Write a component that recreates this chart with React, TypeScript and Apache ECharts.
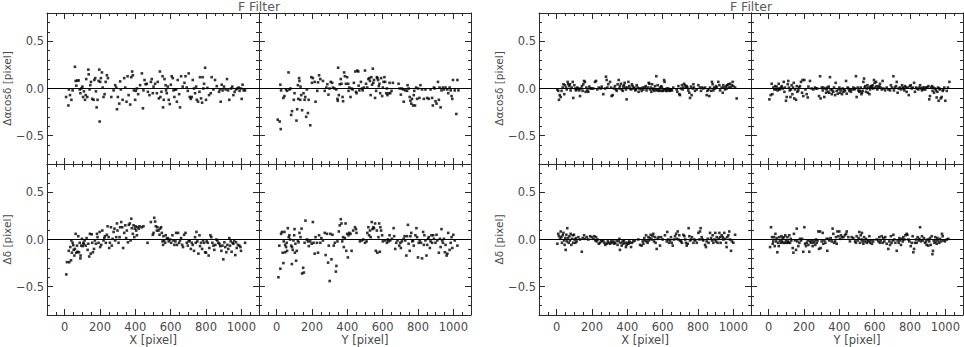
import React, { useEffect, useRef } from 'react';
import * as echarts from 'echarts';

// ---------- texts and ticks ----------
const titleText = 'F Filter';
const xAxisNames = ['X [pixel]', 'Y [pixel]'];
const yAxisNames = ['Δαcosδ [pixel]', 'Δδ [pixel]'];
const xTickValues = [0, 200, 400, 600, 800, 1000];
const yTickValues = [-0.5, 0, 0.5];
const xRange = [-100, 1100];
const yRange = [-0.8, 0.8];

// ---------- data: [pixel position, residual in pixel] ----------
// left group
const leftX_dAlpha: number[][] = [[8,-0.09],[21,-0.18],[24,-0.01],[30,-0.07],[38,-0.12],[45,-0.02],[58,0.23],[62,0.08],[66,0.03],[72,0.085],[79,0.085],[85,-0.01],[89,-0.05],[94,0],[100,0.02],[104,-0.09],[109,-0.03],[115,-0.12],[119,-0.07],[122,0.1],[128,-0.09],[134,0.2],[136,0.15],[141,-0.01],[145,0.035],[149,0.07],[156,-0.11],[164,-0.12],[168,0.09],[173,0.11],[177,-0.03],[181,-0.2],[186,-0.12],[192,0.08],[196,0.2],[198,-0.35],[201,0.07],[205,0.11],[211,0.17],[215,0.01],[220,-0.09],[226,-0.06],[232,0.07],[239,0.14],[245,0.11],[264,-0.09],[277,-0.02],[286,0.035],[292,0.01],[296,-0.22],[301,-0.09],[309,-0.16],[314,0.075],[318,-0.01],[328,-0.12],[337,0.11],[343,0.01],[350,-0.14],[356,0.13],[362,-0.07],[371,-0.17],[377,0.12],[382,0.18],[386,0.14],[392,-0.02],[399,-0.12],[403,-0.025],[409,0],[416,-0.06],[427,0.035],[437,0.16],[443,-0.21],[446,-0.02],[452,0.09],[458,0.045],[465,0.05],[471,-0.035],[480,-0.07],[488,0.07],[493,0.1],[499,-0.05],[503,0.02],[512,0.05],[522,-0.05],[527,0.07],[533,-0.105],[539,0.18],[542,-0.09],[548,-0.035],[554,0.13],[557,-0.2],[561,-0.12],[565,0.1],[571,0.035],[574,-0.02],[578,-0.05],[584,0.02],[589,-0.12],[595,-0.165],[601,0.04],[606,0.13],[612,0.11],[616,-0.02],[621,-0.09],[625,-0.01],[631,-0.01],[635,-0.14],[640,0.09],[648,-0.06],[653,-0.2],[659,0.13],[668,0.02],[678,0.06],[684,0.13],[691,0.01],[697,-0.025],[702,0.16],[708,-0.09],[714,-0.11],[719,-0.09],[725,0.09],[732,0],[738,-0.05],[744,0.02],[748,-0.12],[755,-0.14],[763,-0.035],[766,0.12],[772,-0.105],[778,-0.15],[781,0.12],[785,0],[789,0.05],[795,0.22],[800,-0.12],[808,0.007],[817,-0.07],[827,-0.05],[832,0.12],[842,-0.01],[851,0.09],[861,0.025],[874,-0.035],[879,-0.01],[883,-0.14],[889,0.04],[894,-0.02],[902,0.02],[911,-0.01],[919,0.1],[925,-0.02],[932,-0.12],[942,0],[949,0.02],[955,-0.07],[962,-0.035],[970,-0.01],[977,0],[985,0.01],[990,-0.025],[998,0],[1002,-0.11],[1007,0.04],[1013,-0.02],[1021,-0.02]];

const leftY_dAlpha: number[][] = [[6,-0.33],[17,-0.35],[23,-0.43],[21,0.04],[25,-0.02],[38,-0.1],[44,-0.08],[53,-0.01],[59,-0.025],[67,0.17],[72,-0.01],[78,0],[82,-0.28],[87,-0.24],[97,-0.12],[101,-0.05],[112,-0.34],[116,-0.22],[120,0.035],[122,-0.11],[127,0.11],[129,0.08],[133,-0.12],[135,0.02],[139,-0.07],[144,-0.23],[152,-0.05],[158,-0.12],[162,-0.09],[167,-0.3],[171,-0.01],[177,-0.26],[181,-0.12],[190,-0.39],[196,0.12],[200,0.06],[205,0.11],[215,0.07],[220,-0.14],[230,-0.025],[234,0.065],[240,0.14],[247,0.1],[262,0.08],[272,-0.025],[281,0.01],[287,0.045],[293,-0.065],[299,0],[306,0.07],[314,0.06],[319,0.01],[327,0],[338,-0.01],[344,-0.11],[346,-0.13],[348,0.22],[352,-0.07],[357,0.045],[363,0.1],[367,0.05],[373,-0.09],[376,-0.135],[382,0.17],[386,0.13],[392,0.05],[399,0.12],[405,0.05],[407,-0.025],[411,0.01],[418,-0.09],[424,0],[430,-0.01],[437,0.06],[445,0.18],[449,-0.035],[452,-0.05],[456,0.19],[462,0.18],[464,0.03],[468,-0.02],[477,0.07],[483,0],[487,-0.02],[494,0.01],[500,0.19],[506,0.05],[513,0.01],[519,0.1],[525,0.11],[528,0.08],[532,-0.07],[536,0.12],[540,0.04],[544,0.21],[547,0.06],[551,0.09],[557,-0.1],[563,-0.025],[567,0.12],[570,0.11],[574,0.09],[578,0.025],[582,0.05],[586,-0.05],[591,0.11],[597,-0.08],[601,0.01],[605,0.07],[610,0.12],[614,0.07],[620,-0.05],[624,0],[627,-0.07],[633,-0.05],[639,0.06],[643,-0.05],[650,-0.025],[658,0.06],[690,0.05],[696,0],[703,-0.065],[709,0],[715,-0.01],[719,-0.14],[728,-0.02],[738,-0.025],[741,0.035],[747,0],[753,-0.09],[757,-0.13],[762,-0.16],[766,-0.11],[772,-0.18],[776,-0.07],[779,-0.025],[783,-0.18],[789,0.01],[795,-0.11],[800,0],[808,-0.1],[814,0.035],[823,-0.01],[833,-0.11],[842,-0.01],[852,-0.1],[861,-0.11],[871,-0.01],[880,-0.1],[884,-0.18],[890,0.01],[894,0],[899,-0.135],[905,-0.16],[913,0.07],[918,-0.12],[922,0.01],[928,-0.2],[933,-0.02],[941,0.01],[947,-0.01],[956,0.01],[966,-0.01],[971,-0.05],[979,0.01],[985,-0.02],[990,-0.08],[994,-0.11],[998,0.09],[1008,-0.02],[1017,-0.27],[1023,0.09],[1029,-0.02]];

const leftX_dDelta: number[][] = [[9,-0.37],[13,-0.24],[23,-0.12],[26,-0.24],[32,-0.08],[36,-0.22],[38,-0.01],[41,-0.14],[45,-0.035],[49,-0.06],[51,-0.11],[55,-0.17],[58,-0.1],[62,0.06],[66,-0.14],[70,-0.065],[73,-0.13],[77,0.035],[81,-0.135],[85,-0.035],[89,-0.2],[90,-0.17],[94,-0.065],[98,0.007],[102,-0.07],[105,-0.035],[109,-0.045],[113,-0.01],[119,-0.065],[124,0.015],[130,-0.11],[134,-0.045],[139,-0.18],[143,0.06],[147,-0.15],[153,0.055],[156,-0.035],[160,-0.135],[166,-0.1],[171,-0.01],[177,-0.045],[183,0.06],[186,0.025],[192,-0.035],[198,0.08],[201,-0.08],[207,-0.057],[213,0.095],[220,-0.01],[224,0.015],[228,0.035],[233,-0.035],[239,0.05],[243,0.14],[249,0.025],[252,-0.09],[256,-0.035],[262,0.13],[267,-0.065],[271,0.007],[277,0.08],[282,0.115],[286,-0.01],[292,0.025],[296,0.17],[299,0.095],[305,-0.035],[311,0.025],[314,0.13],[320,0.185],[326,0.13],[331,-0.09],[337,0.07],[343,0.15],[348,0.015],[352,0.095],[358,-0.03],[363,0.155],[369,0.17],[373,-0.01],[377,0.22],[380,0.12],[386,0.06],[390,0.15],[394,0.025],[397,0.115],[401,0.14],[405,0.095],[409,0.045],[412,0.13],[420,0.115],[424,0.14],[437,0.13],[446,0.14],[469,-0.035],[488,0.185],[499,0.05],[503,0.07],[507,0.23],[512,0.19],[516,0.14],[522,0.095],[525,0.13],[531,0.095],[537,0.05],[540,0.115],[546,0.13],[550,0.07],[554,-0.02],[557,-0.057],[559,0.035],[563,-0.01],[569,-0.035],[572,0.045],[578,0.007],[584,0.015],[589,-0.02],[597,0],[603,-0.035],[610,0.045],[616,-0.01],[621,-0.057],[627,-0.02],[631,0.07],[636,-0.057],[642,0.07],[648,-0.035],[653,-0.01],[659,0.015],[665,-0.057],[670,-0.08],[676,0.05],[684,0.07],[691,-0.035],[697,-0.065],[702,-0.02],[708,-0.01],[714,-0.1],[719,-0.035],[725,-0.057],[732,-0.12],[738,0.025],[742,-0.035],[746,0.08],[751,-0.02],[757,-0.15],[763,0.045],[766,-0.07],[772,-0.035],[778,-0.1],[783,-0.01],[789,-0.035],[795,-0.135],[800,-0.14],[804,-0.02],[810,-0.035],[815,-0.17],[819,-0.09],[825,0.045],[830,0.025],[836,-0.035],[842,-0.065],[847,-0.11],[853,-0.057],[859,0],[864,-0.01],[870,-0.035],[876,-0.045],[881,-0.07],[887,-0.12],[893,-0.065],[898,-0.21],[904,-0.03],[909,-0.08],[915,-0.135],[921,-0.057],[926,-0.1],[932,0.015],[936,-0.065],[940,-0.02],[945,-0.13],[951,-0.035],[955,-0.045],[960,-0.01],[966,-0.165],[970,-0.03],[974,-0.09],[981,-0.057],[989,-0.065],[995,-0.08],[998,-0.12],[1021,-0.035]];

const leftY_dDelta: number[][] = [[10,-0.4],[15,-0.065],[21,-0.31],[25,0.06],[30,0.08],[34,-0.14],[38,-0.25],[40,-0.02],[44,0.08],[48,-0.057],[49,-0.135],[53,-0.08],[57,-0.035],[59,-0.12],[63,0.12],[68,0.025],[72,0.045],[76,0],[82,-0.065],[86,-0.26],[87,-0.08],[91,-0.11],[95,-0.01],[99,0.045],[101,0.11],[103,-0.14],[106,-0.045],[110,-0.225],[114,-0.12],[120,-0.01],[124,-0.03],[129,0.07],[135,0.025],[141,0.115],[144,-0.36],[150,-0.3],[154,-0.35],[158,-0.035],[163,0.2],[171,0],[177,-0.02],[182,-0.07],[190,-0.02],[198,-0.045],[205,0.185],[209,-0.035],[215,-0.15],[220,0.025],[228,-0.035],[234,-0.14],[240,0.045],[247,-0.035],[253,0.015],[262,-0.01],[272,0.07],[277,-0.165],[285,0.06],[291,-0.245],[295,-0.065],[300,-0.44],[304,0.06],[310,-0.21],[316,0.05],[323,-0.065],[329,-0.035],[335,-0.34],[338,-0.28],[344,-0.02],[352,0.085],[357,0.15],[363,0.215],[367,0.17],[371,-0.02],[376,0.025],[380,-0.08],[386,0.015],[390,0.17],[394,-0.12],[399,0.06],[403,-0.19],[407,0.045],[411,0.07],[418,0.06],[424,-0.12],[433,0.095],[443,0.13],[449,0.11],[452,0.07],[471,-0.02],[481,-0.01],[490,0],[500,-0.035],[509,-0.02],[513,0.07],[519,0.13],[523,0.045],[528,0.095],[532,0.025],[538,0.185],[542,0.11],[547,0.13],[551,0.12],[557,0.17],[561,-0.12],[567,0.095],[570,-0.14],[576,0.025],[580,0.17],[584,-0.13],[587,0.13],[591,0.095],[597,0.045],[601,-0.02],[614,-0.01],[624,-0.035],[629,0],[633,-0.02],[639,0.045],[643,-0.01],[652,0.007],[662,0.12],[665,0.035],[671,-0.1],[677,-0.035],[684,-0.01],[694,-0.065],[700,-0.035],[703,-0.09],[709,-0.02],[719,0.007],[724,0.035],[728,-0.01],[734,-0.17],[738,0.035],[743,0.155],[747,-0.045],[753,-0.12],[757,0.035],[762,0.07],[768,-0.02],[772,-0.01],[776,-0.065],[785,0.045],[791,0.12],[795,0.025],[800,-0.19],[804,-0.035],[810,-0.01],[817,-0.035],[823,-0.2],[829,0.08],[833,-0.057],[836,0.045],[842,-0.01],[848,-0.17],[852,-0.057],[857,0.007],[861,0.025],[867,-0.09],[871,-0.02],[876,0.045],[880,-0.035],[886,0.045],[890,0.007],[899,-0.035],[905,0.05],[909,-0.01],[918,-0.14],[924,0.007],[928,-0.08],[933,0.11],[937,-0.01],[941,-0.035],[947,0.007],[952,-0.135],[956,-0.057],[962,-0.17],[966,-0.15],[971,0.07],[979,-0.11],[985,-0.035],[990,0.025],[994,-0.09],[1000,0.05],[1008,-0.01],[1023,-0.065]];

// right group
const rightX_dAlpha: number[][] = [[4,-0.01],[9,-0.025],[13,-0.12],[17,-0.07],[23,-0.09],[28,-0.025],[34,0.01],[38,0.045],[43,-0.06],[47,0.035],[53,0.01],[57,-0.01],[62,0.07],[66,0.045],[72,0.025],[75,0.045],[79,-0.02],[85,0.01],[91,0.07],[94,-0.1],[100,0.035],[106,0],[109,-0.02],[113,-0.01],[117,0.01],[123,0],[128,-0.02],[132,-0.08],[138,0],[143,0.025],[147,-0.025],[151,0.045],[155,0.08],[160,0.07],[164,-0.035],[168,0.01],[174,-0.02],[179,-0.035],[185,0.02],[192,0],[198,0],[208,0],[217,0.07],[223,0.08],[230,-0.01],[238,0.01],[249,0],[255,0.02],[264,-0.06],[274,0],[279,0.125],[283,0.09],[287,0.01],[292,0.045],[302,0.07],[308,0.01],[311,-0.08],[317,-0.07],[325,0],[330,0.025],[336,-0.01],[340,-0.025],[345,0.045],[351,0.09],[355,0],[358,0.025],[364,0.05],[368,-0.01],[374,-0.025],[377,0.02],[381,0.035],[385,0.06],[389,0.01],[392,-0.01],[396,-0.115],[400,0.01],[406,0.07],[411,0.025],[415,0],[421,-0.01],[426,0.045],[430,0.025],[434,0],[440,0.01],[445,-0.02],[449,-0.01],[453,0.035],[458,0.01],[464,-0.035],[468,0],[476,0],[481,-0.025],[487,0.01],[491,-0.01],[498,0.01],[504,0.025],[509,-0.02],[515,0.01],[521,0.06],[525,0.05],[528,-0.01],[532,0.01],[536,-0.035],[540,0.045],[543,-0.01],[547,0],[553,-0.025],[557,0.025],[560,-0.01],[564,0.13],[568,-0.02],[572,0.035],[577,-0.025],[581,-0.01],[585,0.01],[589,-0.025],[592,0.025],[596,0.01],[600,-0.025],[604,-0.02],[608,0.09],[611,0.07],[615,-0.01],[619,-0.025],[623,0],[626,-0.025],[632,0],[638,-0.02],[642,-0.025],[647,-0.01],[653,-0.02],[660,0.01],[679,-0.01],[683,-0.035],[689,0.025],[694,-0.06],[698,-0.07],[704,0],[709,0.035],[713,-0.01],[717,0.01],[721,0.05],[726,0.035],[732,0.01],[736,0.025],[740,0.01],[745,-0.02],[751,-0.045],[755,-0.1],[760,0.02],[764,-0.07],[770,0],[774,0.045],[777,0.01],[783,-0.025],[793,-0.01],[802,0.035],[811,0.01],[817,-0.025],[823,0.01],[830,0],[840,0.01],[849,-0.07],[853,-0.025],[859,-0.01],[864,-0.08],[868,0.01],[874,-0.025],[879,0.07],[883,0.045],[887,-0.02],[891,0.01],[896,0],[902,0.025],[906,0.01],[915,0.07],[921,0.035],[925,-0.02],[934,0.01],[940,-0.045],[943,0.035],[949,0.01],[953,-0.01],[959,0.025],[962,0],[966,0.035],[972,0.045],[977,0.01],[981,0.05],[985,0.01],[991,0.035],[996,0.07],[1000,0.025],[1010,0.01],[1019,-0.105]];

const rightY_dAlpha: number[][] = [[4,-0.115],[11,-0.07],[17,0.05],[21,-0.06],[26,0.01],[32,-0.01],[36,0.025],[42,-0.01],[45,0.02],[51,-0.02],[57,0.05],[60,0],[64,-0.01],[70,0.01],[74,0.025],[79,0],[85,0.07],[89,-0.035],[92,0.01],[98,-0.13],[102,-0.09],[108,0.045],[111,0.08],[115,0.01],[119,-0.02],[123,-0.09],[126,-0.01],[130,0.035],[134,-0.06],[138,0.01],[142,0.06],[145,-0.105],[149,-0.01],[155,-0.12],[159,0.025],[162,-0.035],[168,-0.02],[172,0.01],[177,0.025],[183,0.07],[189,-0.045],[192,0.09],[196,-0.08],[202,0.09],[208,-0.01],[215,-0.06],[221,-0.095],[225,0.02],[234,0.08],[243,0],[253,-0.01],[262,0.01],[268,0],[275,0],[285,-0.08],[291,0.13],[294,-0.105],[300,0.01],[306,-0.02],[309,0.01],[315,-0.09],[321,0],[325,-0.045],[328,-0.01],[332,0.01],[336,-0.035],[340,0.02],[343,-0.045],[347,0.12],[351,-0.01],[357,-0.06],[360,-0.02],[366,-0.035],[370,0.01],[376,-0.07],[379,0.06],[385,-0.025],[391,-0.055],[396,-0.01],[400,0.01],[404,-0.045],[409,-0.02],[415,-0.06],[419,0],[423,-0.035],[428,-0.01],[432,-0.025],[438,0.08],[442,-0.055],[447,0.01],[451,0],[457,-0.025],[460,-0.01],[466,-0.035],[472,-0.01],[479,0.01],[485,-0.01],[489,0],[494,0.13],[498,-0.09],[504,0.01],[508,-0.02],[513,-0.035],[517,-0.025],[521,0.01],[525,-0.06],[528,-0.045],[532,-0.025],[536,0.07],[540,0.105],[543,0.01],[547,0.025],[551,-0.035],[555,0],[559,0.035],[562,-0.045],[566,0.01],[570,-0.06],[574,-0.01],[577,0.02],[581,0.025],[585,0.01],[589,0.035],[592,0],[596,0.09],[600,0.06],[604,0.01],[608,0.07],[611,0.025],[615,-0.01],[621,0.01],[626,0.025],[630,0.05],[634,0.01],[640,-0.01],[645,0.08],[649,0],[659,-0.02],[668,0.01],[677,-0.01],[687,-0.02],[692,0.035],[698,0.01],[706,0.13],[709,-0.02],[715,0.01],[721,0.025],[725,0.07],[730,-0.045],[736,0],[743,0.01],[749,-0.01],[755,0.035],[759,0.01],[762,0],[768,-0.02],[772,0.025],[776,0.01],[781,-0.035],[787,0.01],[793,-0.07],[800,0.025],[804,0.035],[810,0],[815,0.01],[823,0.06],[828,-0.035],[834,0.01],[838,0],[847,-0.01],[853,0.01],[857,0.035],[862,0],[868,-0.02],[872,0.01],[876,-0.01],[881,0.01],[887,-0.01],[891,0.01],[898,0.01],[904,0.025],[909,-0.115],[913,-0.08],[919,0.01],[925,0.025],[928,-0.025],[932,0.01],[936,-0.045],[942,0],[947,-0.02],[951,-0.095],[955,-0.035],[959,0.01],[962,-0.13],[966,0],[970,-0.01],[974,-0.105],[979,-0.09],[985,-0.025],[989,-0.01],[994,0.01],[1000,-0.13],[1008,-0.025],[1015,0.01],[1023,0.07]];

const rightX_dDelta: number[][] = [[4,-0.045],[9,0.06],[13,0.035],[19,0.007],[23,0.085],[26,0.025],[30,-0.035],[34,0.045],[38,0.07],[42,-0.01],[45,-0.057],[49,0.015],[51,-0.11],[55,0.05],[57,-0.02],[60,0.12],[64,0.015],[68,-0.035],[72,0.035],[75,-0.01],[79,0.06],[83,-0.057],[87,0.007],[91,0.045],[94,-0.035],[98,0.05],[102,0],[106,-0.035],[109,0.015],[113,-0.02],[123,0.025],[132,0],[142,-0.13],[147,0.015],[155,0.045],[160,0.007],[170,0.025],[179,0],[189,0.035],[198,0.025],[208,0.007],[213,0.035],[219,-0.01],[223,0.025],[226,-0.02],[232,0],[238,-0.045],[245,-0.035],[251,-0.01],[257,-0.02],[264,-0.01],[270,-0.035],[275,-0.057],[283,-0.045],[289,-0.02],[294,-0.035],[302,-0.045],[308,-0.02],[313,-0.035],[321,-0.02],[326,-0.045],[332,-0.035],[340,-0.01],[345,-0.057],[351,-0.02],[355,0.007],[358,-0.11],[362,-0.035],[368,-0.065],[374,-0.02],[377,-0.045],[381,-0.01],[387,-0.035],[392,-0.08],[396,-0.057],[400,-0.035],[406,-0.045],[411,-0.02],[415,-0.035],[421,-0.08],[426,-0.035],[434,-0.02],[443,-0.01],[462,0],[472,-0.057],[481,-0.065],[487,-0.02],[491,-0.045],[496,0.015],[500,-0.01],[506,0.045],[509,-0.02],[515,-0.035],[519,0.025],[523,-0.01],[528,0.015],[532,0.05],[538,0],[543,0.035],[547,0.06],[551,-0.02],[557,0.025],[560,-0.035],[566,-0.1],[572,0.007],[577,0.025],[585,-0.065],[591,0.025],[600,0],[613,0.045],[623,-0.02],[626,0.08],[632,0],[636,-0.035],[642,-0.01],[647,0.025],[651,-0.035],[657,-0.065],[664,0],[670,0.035],[676,0.06],[679,0.007],[685,0.085],[689,0],[694,0.045],[698,-0.01],[704,-0.02],[709,-0.035],[717,0.05],[723,0.035],[728,0],[732,-0.035],[736,-0.065],[742,-0.045],[747,0.12],[751,0.035],[755,-0.01],[760,0],[766,0.025],[774,-0.035],[779,0],[785,-0.01],[793,-0.035],[802,0.07],[808,0],[811,0.085],[815,0.12],[821,0.025],[826,0],[830,-0.01],[840,-0.057],[845,-0.08],[849,-0.02],[855,0.007],[860,-0.035],[868,0.07],[874,0.015],[879,-0.01],[883,0.045],[887,-0.035],[893,0],[898,0.07],[902,-0.02],[906,0.025],[911,-0.035],[917,0.007],[921,0.07],[925,0.025],[928,-0.035],[934,0.045],[940,0.025],[943,0],[949,0.07],[953,0.007],[959,-0.035],[962,-0.08],[966,0.025],[972,0.045],[977,0.085],[981,0],[987,-0.12],[992,-0.02],[1000,-0.035],[1010,0.05]];

const rightY_dDelta: number[][] = [[8,-0.08],[13,0.13],[19,0.025],[23,-0.045],[26,-0.02],[30,0.025],[34,-0.07],[38,0.06],[42,-0.02],[45,0.015],[49,-0.135],[53,-0.035],[57,-0.07],[60,0.025],[64,-0.01],[68,-0.035],[72,0.035],[75,-0.02],[79,0.015],[83,-0.035],[87,0.025],[91,-0.035],[94,0.045],[98,-0.01],[102,-0.035],[106,0.025],[109,-0.02],[113,-0.035],[117,0.045],[121,-0.035],[125,0.007],[128,-0.01],[136,-0.09],[140,-0.14],[143,0.06],[149,-0.01],[155,-0.11],[159,0.115],[162,-0.02],[168,-0.07],[174,-0.035],[177,0.007],[183,-0.01],[189,0.007],[196,-0.13],[202,0.13],[206,-0.045],[211,-0.07],[215,-0.035],[221,-0.01],[225,-0.057],[230,-0.13],[234,-0.02],[240,-0.035],[245,-0.01],[249,-0.07],[253,-0.035],[259,-0.02],[264,-0.057],[268,0],[272,-0.035],[277,-0.01],[281,0.085],[285,-0.1],[291,0.085],[294,-0.09],[300,-0.02],[306,0.07],[309,-0.045],[315,-0.01],[321,-0.035],[328,0.007],[332,-0.12],[338,0.007],[343,-0.01],[351,0.015],[357,-0.02],[362,0.115],[366,0.06],[370,-0.035],[376,-0.02],[381,0.025],[385,-0.045],[389,0.085],[394,0.035],[400,0.085],[404,0.007],[409,0.045],[415,0.025],[423,0.025],[432,0.045],[438,0.06],[442,0.085],[451,0.025],[460,-0.02],[470,0.025],[479,0.015],[489,-0.02],[494,-0.035],[498,0.035],[504,-0.01],[509,0.015],[513,0.08],[517,-0.035],[521,0.045],[525,0],[528,0.07],[532,-0.02],[536,-0.045],[540,0.025],[545,-0.02],[551,0.007],[555,-0.035],[560,-0.01],[566,-0.02],[570,0.035],[574,-0.035],[579,-0.01],[585,-0.045],[592,-0.02],[611,0],[621,-0.02],[626,0.025],[630,-0.035],[634,-0.01],[640,0.035],[645,-0.035],[649,0.015],[655,-0.02],[660,0.025],[668,-0.045],[677,-0.1],[683,-0.02],[687,-0.057],[692,0.035],[696,-0.035],[702,-0.01],[706,0.05],[711,0],[717,-0.035],[725,-0.12],[730,-0.01],[736,-0.035],[740,0.015],[743,-0.01],[749,-0.057],[753,0.007],[759,-0.02],[762,0.025],[768,0],[774,0.045],[781,0.06],[785,0.05],[791,0],[796,-0.02],[804,-0.07],[810,-0.035],[815,0.035],[819,-0.135],[823,-0.1],[828,-0.035],[834,0],[838,-0.035],[843,0.025],[849,-0.01],[853,0.007],[857,0.13],[862,-0.02],[868,0.035],[872,-0.01],[879,0.015],[885,-0.035],[891,-0.02],[894,-0.057],[900,0],[904,-0.065],[909,-0.02],[913,0.015],[917,-0.057],[923,0.035],[927,-0.155],[930,-0.12],[934,-0.01],[938,-0.035],[943,0.025],[947,-0.02],[951,-0.045],[955,0.015],[960,-0.01],[966,-0.035],[970,0.007],[976,-0.02],[981,0.06],[985,0.035],[989,-0.01],[998,-0.02],[1008,0],[1017,0.007]];

// panels[group][row][column]
const panels = [
  [[leftX_dAlpha, leftY_dAlpha], [leftX_dDelta, leftY_dDelta]],
  [[rightX_dAlpha, rightY_dAlpha], [rightX_dDelta, rightY_dDelta]],
];

// ---------- layout / style ----------
const groupLefts = [47, 539];
const panelW = 212;
const rowTops = [13, 164];
const panelH = 151;
const FONT = '"DejaVu Sans", "Liberation Sans", sans-serif';
const TEXT = '#4a4a4a';
const LINE = '#2a2a2a';

const fmtY = (v: number) => (v < 0 ? '\u2212' + Math.abs(v).toFixed(1) : v.toFixed(1));
const fmtX = (v: number) => String(Math.round(v));

export default function App() {
  const ref = useRef<HTMLDivElement>(null);
  useEffect(() => {
    if (!ref.current) return;
    const chart = echarts.init(ref.current, null, { renderer: 'svg' });
    const grid: any[] = [];
    const xAxis: any[] = [];
    const yAxis: any[] = [];
    const series: any[] = [];
    const title: any[] = [];

    groupLefts.forEach((gl, g) => {
      title.push({
        text: titleText,
        left: gl + panelW,
        top: 0,
        textAlign: 'center',
        padding: 0,
        textStyle: { fontSize: 12.5, lineHeight: 13, fontWeight: 'normal', color: '#5a5a5a', fontFamily: FONT },
      });
      for (let r = 0; r < 2; r++) {
        for (let c = 0; c < 2; c++) {
          const gi = grid.length;
          grid.push({ left: gl + c * panelW, top: rowTops[r], width: panelW, height: panelH });
          const minorX = (pos: string) => ({
            gridIndex: gi, type: 'value', min: xRange[0], max: xRange[1], interval: 50, position: pos,
            axisLine: { show: true, onZero: false, lineStyle: { color: LINE, width: 1 } },
            axisTick: { show: true, inside: true, length: 3, lineStyle: { color: LINE } },
            axisLabel: { show: false }, splitLine: { show: false },
          });
          const majorX = (pos: string, labels: boolean) => ({
            gridIndex: gi, type: 'value', min: xRange[0], max: xRange[1], position: pos,
            axisLine: { show: false, onZero: false },
            axisTick: { show: true, inside: true, length: 6, customValues: xTickValues, lineStyle: { color: LINE } },
            axisLabel: { show: labels, customValues: xTickValues, formatter: fmtX, margin: 6, color: TEXT, fontSize: 11.5, fontFamily: FONT },
            splitLine: { show: false },
            name: labels ? xAxisNames[c] : '', nameLocation: 'middle', nameGap: 19,
            nameTextStyle: { color: TEXT, fontSize: 11.5, fontFamily: FONT },
          });
          const minorY = (pos: string) => ({
            gridIndex: gi, type: 'value', min: yRange[0], max: yRange[1], interval: 0.1, position: pos,
            axisLine: { show: true, onZero: false, lineStyle: { color: LINE, width: 1 } },
            axisTick: { show: true, inside: true, length: 3, lineStyle: { color: LINE } },
            axisLabel: { show: false }, splitLine: { show: false },
          });
          const majorY = (pos: string, labels: boolean) => ({
            gridIndex: gi, type: 'value', min: yRange[0], max: yRange[1], position: pos,
            axisLine: { show: false, onZero: false },
            axisTick: { show: true, inside: true, length: 6, customValues: yTickValues, lineStyle: { color: LINE } },
            axisLabel: { show: labels, customValues: yTickValues, formatter: fmtY, margin: 3, color: TEXT, fontSize: 11.5, fontFamily: FONT },
            splitLine: { show: false },
            name: labels ? yAxisNames[r] : '', nameLocation: 'middle', nameGap: 27, nameRotate: 90,
            nameTextStyle: { color: TEXT, fontSize: 10.5, fontFamily: FONT },
          });
          const xi = xAxis.length;
          const yi = yAxis.length;
          xAxis.push(minorX('bottom'), minorX('top'), majorX('bottom', r === 1), majorX('top', false));
          yAxis.push(minorY('left'), minorY('right'), majorY('left', c === 0), majorY('right', false));
          series.push({
            type: 'scatter',
            xAxisIndex: xi,
            yAxisIndex: yi,
            data: panels[g][r][c],
            symbol: 'rect',
            symbolSize: 2.6,
            itemStyle: { color: '#000' },
            silent: true,
            markLine: {
              silent: true,
              symbol: ['none', 'none'],
              label: { show: false },
              lineStyle: { color: '#000', width: 1, type: 'solid' },
              data: [{ yAxis: 0 }],
            },
          });
        }
      }
    });

    chart.setOption({
      animation: false,
      backgroundColor: '#fff',
      title,
      grid,
      xAxis,
      yAxis,
      series,
    });
    return () => chart.dispose();
  }, []);
  return <div ref={ref} style={{ position: 'absolute', left: 0, top: 0, width: 964, height: 347 }} />;
}
